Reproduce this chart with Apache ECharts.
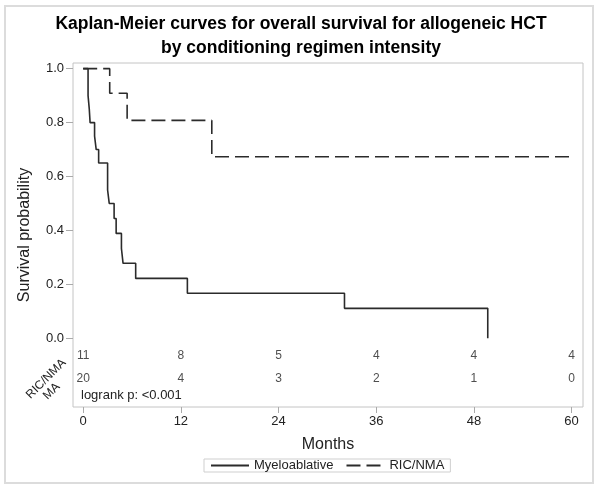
<!DOCTYPE html>
<html>
<head>
<meta charset="utf-8">
<script src="https://cdn.jsdelivr.net/npm/echarts@6/dist/echarts.min.js"></script>
<style>
html,body{margin:0;padding:0;background:#fff;}
#main{width:600px;height:492px;}
</style>
</head>
<body>
<div id="main"></div>
<script>
// ---- data ----
var maTimes = [0, 0.6, 0.75, 0.85, 1.4, 1.6, 1.9, 3.0, 3.2, 3.8, 4.05, 4.7, 4.9, 6.45, 12.8, 32.1, 49.7];
var maSurv  = [1, 0.9, 0.85, 0.8, 0.75, 0.7, 0.65, 0.55, 0.5, 0.444, 0.389, 0.333, 0.278, 0.222, 0.167, 0.111, 0];
var ricTimes = [0, 3.26, 5.4, 15.8, 60];
var ricSurv  = [1, 0.909, 0.808, 0.673, 0.673];
var riskTimes = [0, 12, 24, 36, 48, 60];
var riskRIC = [11, 8, 5, 4, 4, 4];
var riskMA  = [20, 4, 3, 2, 1, 0];
var xTicks = [0, 12, 24, 36, 48, 60];
var yTicks = [0, 0.2, 0.4, 0.6, 0.8, 1.0];
var seriesNames = ['Myeloablative', 'RIC/NMA'];

var FONT = '"Liberation Sans", Arial, sans-serif';
var rowRIC = -0.063, rowMA = -0.149;

function pairs(xs, ys){ return xs.map(function(x,i){ return [x, ys[i]]; }); }
function riskData(row, vals){ return riskTimes.map(function(t,i){ return [t, row, vals[i]]; }); }

var chart = echarts.init(document.getElementById('main'), null, {renderer:'canvas'});
var option = {
  animation: false,
  backgroundColor: '#fff',
  textStyle: {fontFamily: FONT},
  title: {
    text: 'Kaplan-Meier curves for overall survival for allogeneic HCT\nby conditioning regimen intensity',
    left: 296, top: 7, textAlign: 'center',
    textStyle: {fontFamily: FONT, fontSize: 17.5, fontWeight: 'bold', color: '#000', lineHeight: 24}
  },
  grid: {left: 73, top: 63, width: 510, height: 344, show: true, borderColor: '#c4c4c4', borderWidth: 1, containLabel: false},
  xAxis: {
    type: 'value', min: -1.25, max: 61.4,
    name: 'Months', nameLocation: 'middle', nameGap: 30,
    nameTextStyle: {fontFamily: FONT, fontSize: 16, color: '#222'},
    axisLine: {show: false, onZero: false},
    axisTick: {show: true, customValues: xTicks, length: 6, lineStyle: {color: '#aaa'}},
    axisLabel: {customValues: xTicks, fontFamily: FONT, fontSize: 13, color: '#222', margin: 8},
    splitLine: {show: false}
  },
  yAxis: {
    type: 'value', min: -0.255, max: 1.021,
    name: 'Survival probability', nameLocation: 'middle', nameGap: 40,
    nameTextStyle: {fontFamily: FONT, fontSize: 16, color: '#222'},
    axisLine: {show: false, onZero: false},
    axisTick: {show: true, customValues: yTicks, length: 7, lineStyle: {color: '#aaa'}},
    axisLabel: {customValues: yTicks, fontFamily: FONT, fontSize: 13, color: '#222', margin: 9,
      formatter: function(v){ return v.toFixed(1); }},
    splitLine: {show: false}
  },
  legend: {
    data: seriesNames, left: 204, top: 459, orient: 'horizontal',
    padding: [0, 6, 0, 6], itemWidth: 38, itemHeight: 12, itemGap: 12,
    borderColor: '#cfcfcf', borderWidth: 1,
    itemStyle: {opacity: 0},
    textStyle: {fontFamily: FONT, fontSize: 13, color: '#222'}
  },
  graphic: [
    {type: 'rect', shape: {x: 5, y: 6, width: 588, height: 477}, style: {fill: 'none', stroke: '#dcdcdc', lineWidth: 2}, silent: true, z: -1},
    {type: 'text', x: 81, y: 395, style: {text: 'logrank p: <0.001', font: '13px ' + FONT, fill: '#222', textVerticalAlign: 'middle'}},
    {type: 'text', x: 64, y: 361, rotation: Math.PI/4, style: {text: 'RIC/NMA', font: '12px ' + FONT, fill: '#222', textAlign: 'right', textVerticalAlign: 'middle'}},
    {type: 'text', x: 58, y: 385, rotation: Math.PI/4, style: {text: 'MA', font: '12px ' + FONT, fill: '#222', textAlign: 'right', textVerticalAlign: 'middle'}}
  ],
  series: [
    {name: seriesNames[0], type: 'line', step: 'end', data: pairs(maTimes, maSurv), symbol: 'none',
     lineStyle: {color: '#2b2b2b', width: 1.6, type: 'solid'}, itemStyle: {color: '#2b2b2b'}},
    {name: seriesNames[1], type: 'line', step: 'end', data: pairs(ricTimes, ricSurv), symbol: 'none',
     lineStyle: {color: '#2b2b2b', width: 1.6, type: [14, 6]}, itemStyle: {color: '#2b2b2b'}},
    {name: 'riskRIC', type: 'scatter', data: riskData(rowRIC, riskRIC), symbolSize: 0.01, silent: true,
     label: {show: true, position: 'inside', formatter: function(p){ return p.value[2]; }, fontFamily: FONT, fontSize: 12, color: '#222'}},
    {name: 'riskMA', type: 'scatter', data: riskData(rowMA, riskMA), symbolSize: 0.01, silent: true,
     label: {show: true, position: 'inside', formatter: function(p){ return p.value[2]; }, fontFamily: FONT, fontSize: 12, color: '#222'}}
  ]
};
chart.setOption(option);
</script>
</body>
</html>
